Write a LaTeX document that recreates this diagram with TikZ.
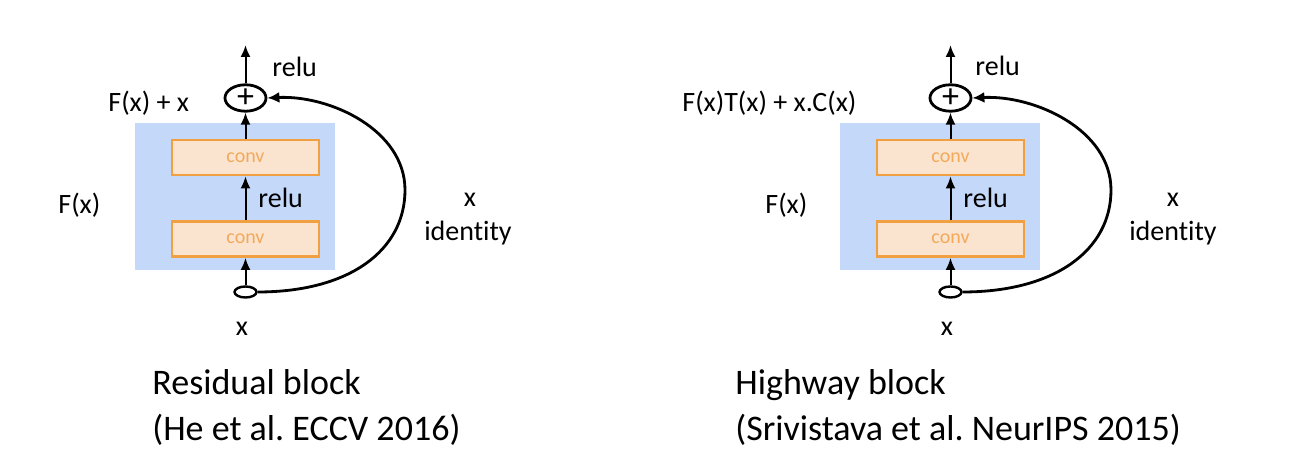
\documentclass[tikz,border=0pt]{standalone}
\usepackage{fontspec}
\setmainfont{Carlito}[Ligatures=NoCommon]
\frenchspacing
\usetikzlibrary{shapes.geometric,arrows.meta}
\definecolor{bgblue}{RGB}{196,216,250}
\definecolor{convfill}{RGB}{250,228,208}
\definecolor{convline}{RGB}{240,160,64}
\definecolor{convtext}{RGB}{242,170,90}
\begin{document}
\begin{tikzpicture}[x=0.5pt,y=-0.5pt,
 lbl/.style={font=\fontsize{14}{16}\selectfont, inner sep=0pt},
 captxt/.style={font=\fontsize{18}{22}\selectfont, inner sep=0pt, anchor=base west},
 bg/.style={fill=bgblue, minimum width=100pt, minimum height=73.5pt, inner sep=0pt},
 convbox/.style={draw=convline, line width=1.4pt, fill=convfill, minimum width=73.5pt, minimum height=17.5pt, inner sep=0pt, font=\fontsize{10}{11}\selectfont, text=convtext},
 sumnode/.style={ellipse, draw, line width=1.4pt, minimum width=20.5pt, minimum height=13pt, inner sep=0pt, font=\fontsize{17}{17}\selectfont},
 inp/.style={ellipse, draw, line width=1.2pt, fill=white, minimum width=11pt, minimum height=5.5pt, inner sep=0pt},
 arr/.style={-{Latex[length=6pt,width=5pt]}, line width=1pt},
 skiparr/.style={-{Latex[length=6pt,width=5.5pt]}, line width=1.4pt}
]
\useasboundingbox (0,0) rectangle (1298,458);
% ---------- left: residual block
\node[bg] (Lbg) at (235,196.5) {};
\node[convbox] (Lc2) at (245.5,157.5) {conv};
\node[convbox] (Lc1) at (245.5,239) {conv};
\node[sumnode] (Lp) at (245.5,98) {+};
\node[inp] (Lin) at (245.5,292) {};
\coordinate (Lout) at (245.5,45);
\coordinate (Lr) at (405,190);
\draw[arr] (Lin) -- (Lc1);
\draw[arr] (Lc1) -- (Lc2);
\draw[arr] (Lc2) -- (Lp);
\draw[arr] (Lp) -- (Lout);
\draw[skiparr] (Lin.east) .. controls (350,292) and (405,250) .. (Lr)
  .. controls (405,130) and (330,95) .. (Lp.east);
\node[lbl, anchor=base west] (Lrelu) at (272,77) {relu};
\node[lbl, anchor=base west] (Lsum) at (108,112) {F(x) + x};
\node[lbl, anchor=base west] (Lrelu2) at (258,208) {relu};
\node[lbl, anchor=base west] (Lfx) at (58,214) {F(x)};
\node[lbl, anchor=base] (Lx) at (470,207) {x};
\node[lbl, anchor=base] (Lid) at (468,241) {identity};
\node[lbl, anchor=base] (Lxin) at (242,336) {x};
\node[captxt] (Lcap1) at (152,395) {Residual block};
\node[captxt] (Lcap2) at (152,441) {(He et al. ECCV 2016)};
% ---------- right: highway block
\node[bg] (Rbg) at (940,196.5) {};
\node[convbox] (Rc2) at (950.5,157.5) {conv};
\node[convbox] (Rc1) at (950.5,239) {conv};
\node[sumnode] (Rp) at (950.5,98) {+};
\node[inp] (Rin) at (950.5,292) {};
\coordinate (Rout) at (950.5,45);
\coordinate (Rr) at (1111,190);
\draw[arr] (Rin) -- (Rc1);
\draw[arr] (Rc1) -- (Rc2);
\draw[arr] (Rc2) -- (Rp);
\draw[arr] (Rp) -- (Rout);
\draw[skiparr] (Rin.east) .. controls (1055,292) and (1111,250) .. (Rr)
  .. controls (1111,130) and (1035,95) .. (Rp.east);
\node[lbl, anchor=base west] (Rrelu) at (975,76) {relu};
\node[lbl, anchor=base west] (Rsum) at (682,112) {F(x)T(x) + x.C(x)};
\node[lbl, anchor=base west] (Rrelu2) at (963,208) {relu};
\node[lbl, anchor=base west] (Rfx) at (765,214) {F(x)};
\node[lbl, anchor=base] (Rx) at (1173,207) {x};
\node[lbl, anchor=base] (Rid) at (1173,241) {identity};
\node[lbl, anchor=base] (Rxin) at (947,336) {x};
\node[captxt] (Rcap1) at (735,395) {Highway block};
\node[captxt] (Rcap2) at (735,441) {(Srivistava et al. NeurIPS 2015)};
\end{tikzpicture}
\end{document}
